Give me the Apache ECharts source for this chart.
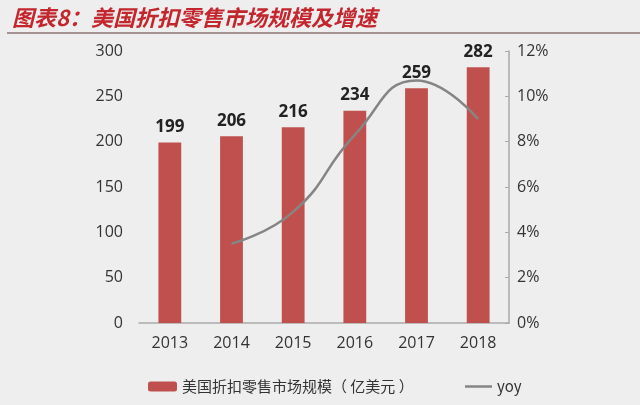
<!DOCTYPE html>
<html><head><meta charset="utf-8">
<script src="https://cdn.jsdelivr.net/npm/echarts@6/dist/echarts.min.js"></script>
<style>html,body{margin:0;padding:0;background:#eeeeee;}#c{width:640px;height:405px;}</style>
</head><body><div id="c"></div>
<script>
const years = ['2013','2014','2015','2016','2017','2018'];
const marketSize = [199, 206, 216, 234, 259, 282];
const yoy = [null, 3.5, 4.9, 8.3, 10.7, 9.0];
const leftTicks = [0, 300, 50];
const rightTicks = [0, 12, 2];
const barName = '美国折扣零售市场规模（ 亿美元 ）';

const chart = echarts.init(document.getElementById('c'));
chart.setOption({
  backgroundColor: '#eeeeee',
  animation: false,
  title: {
    text: '图表8：美国折扣零售市场规模及增速',
    left: 7, top: 2,
    textStyle: {color: '#c3262d', fontSize: 22, fontStyle: 'italic', fontWeight: 'bold', fontFamily: 'Noto Sans CJK SC'}
  },
  graphic: [{type: 'line', shape: {x1: 7, y1: 33, x2: 640, y2: 33}, style: {stroke: '#8c7474', lineWidth: 1.5}}],
  grid: {left: 139, right: 131, top: 51, bottom: 82},
  legend: [
    {data: [barName], left: 143, top: 374, itemWidth: 29, itemHeight: 10, itemGap: 4,
     textStyle: {color: '#333', fontSize: 15, fontFamily: 'Noto Sans CJK SC'}},
    {data: [{name: 'yoy', icon: 'rect'}], left: 460, top: 374, itemWidth: 27, itemHeight: 2.5, itemGap: 4,
     textStyle: {color: '#333', fontSize: 15, fontFamily: 'Noto Sans CJK SC'}}
  ],
  xAxis: {
    type: 'category', data: years,
    axisLine: {lineStyle: {color: '#aaaaaa', width: 1.5}},
    axisTick: {show: false},
    axisLabel: {color: '#333', fontSize: 16, margin: 12, fontFamily: 'Open Sans'}
  },
  yAxis: [
    {type: 'value', min: leftTicks[0], max: leftTicks[1], interval: leftTicks[2],
     axisLine: {show: false}, axisTick: {show: false}, splitLine: {show: false},
     axisLabel: {color: '#333', fontSize: 16, margin: 16, fontFamily: 'Open Sans'}},
    {type: 'value', min: rightTicks[0], max: rightTicks[1], interval: rightTicks[2], position: 'right',
     axisLine: {show: true, lineStyle: {color: '#aaaaaa', width: 1.5}},
     axisTick: {show: true, inside: true, length: 4, lineStyle: {color: '#aaaaaa'}},
     splitLine: {show: false},
     axisLabel: {color: '#333', fontSize: 16, margin: 8, formatter: '{value}%', fontFamily: 'Open Sans'}}
  ],
  series: [
    {name: barName, type: 'bar', data: marketSize, barWidth: '37%',
     itemStyle: {color: '#c0504d'},
     label: {show: true, position: 'top', distance: 7, color: '#222', fontSize: 17, fontWeight: 'bold', fontFamily: 'Open Sans'}},
    {name: 'yoy', type: 'line', yAxisIndex: 1, data: yoy, smooth: 0.5, showSymbol: false, symbol: 'none',
     lineStyle: {color: '#858585', width: 2.5}, itemStyle: {color: '#858585'}}
  ]
});
</script></body></html>
